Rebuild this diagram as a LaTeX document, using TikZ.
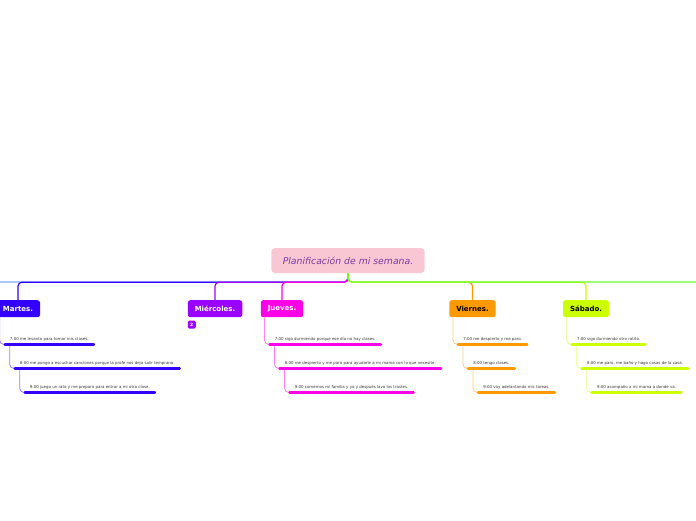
\documentclass[tikz,border=0pt]{standalone}
\usepackage{fontspec}
\setmainfont{DejaVu Sans}
\usepackage{xcolor}
\usetikzlibrary{positioning, calc}

\definecolor{titlefill}{HTML}{F9C6D3}
\definecolor{titletext}{HTML}{7A3F9C}
\definecolor{lunescol}{HTML}{7FA7FF}
\definecolor{martescol}{HTML}{3300FF}
\definecolor{miercol}{HTML}{9900FF}
\definecolor{juevescol}{HTML}{FF00E6}
\definecolor{viernescol}{HTML}{FF9900}
\definecolor{sabadocol}{HTML}{CCFF00}
\definecolor{domingocol}{HTML}{66FF33}
\definecolor{tasktext}{HTML}{333333}

\begin{document}
\begin{tikzpicture}[
    x=1pt, y=-1pt,
    titlebox/.style={fill=titlefill, rounded corners=4pt, minimum height=25pt, inner xsep=11.5pt, font=\fontsize{9.3}{11}\selectfont\itshape, text=titletext},
    daybox/.style={rounded corners=2.5pt, minimum height=17pt, inner xsep=7pt, font=\fontsize{7}{8}\selectfont\bfseries, anchor=north},
    badge/.style={rounded corners=1.5pt, minimum size=8pt, inner sep=0pt, font=\fontsize{4.5}{5}\selectfont\bfseries, text=white, anchor=north west},
    task/.style={anchor=south west, inner xsep=5pt, inner ysep=3pt, font=\fontsize{3.95}{4.5}\selectfont, text=tasktext},
    trunk/.style={line width=1.2pt, rounded corners=4pt},
    underline/.style={line width=2.4pt, line cap=round},
    twig/.style={line width=0.8pt, rounded corners=4pt}
]
\useasboundingbox (0,0) rectangle (696,520);

% central topic
\node[titlebox] (plan) at (348,260.5) {Planificación de mi semana.};

% days
\node[daybox, fill=martescol, text=white] (martes) at (18,300) {Martes.};
\node[daybox, fill=miercol, text=white] (miercoles) at (215,300) {Miércoles.};
\node[daybox, fill=juevescol, text=white] (jueves) at (282,300) {Jueves.};
\node[daybox, fill=viernescol, text=black] (viernes) at (472.5,300) {Viernes.};
\node[daybox, fill=sabadocol, text=black] (sabado) at (586,300) {Sábado.};

\node[badge, fill=miercol] (mibadge) at ($(miercoles.south west)+(0,3)$) {2};

\coordinate (lunes) at (0,282);
\coordinate (domingo) at (696,282);

% trunk lines
\draw[trunk, lunescol] (plan.south) |- (lunes);
\draw[trunk, martescol] (plan.south) -- ++(0,9) -| (martes.north);
\draw[trunk, miercol] (plan.south) -- ++(0,9) -| (miercoles.north);
\draw[trunk, juevescol] (plan.south) -- ++(0,9) -| (jueves.north);
\draw[trunk, viernescol] (plan.south) -- ++(0,9) -| (viernes.north);
\draw[trunk, sabadocol] (plan.south) -- ++(0,9) -| (sabado.north);
\draw[trunk, domingocol] (plan.south) |- (domingo);

% Martes
\node[task] (m1) at ($(martes.south west)+(9,27)$) {7:00 me levanto para tomar mis clases.};
\node[task] (m2) at ($(m1.south west)+(10,24)$) {8:00 me pongo a escuchar canciones porque la profe nos deja salir temprano.};
\node[task] (m3) at ($(m2.south west)+(10,24)$) {9:00 juego un rato y me preparo para entrar a mi otra clase.};
\draw[twig, martescol!50] ([xshift=4pt]martes.south west) |- (m1.south west);
\draw[twig, martescol!50] ([xshift=5pt]m1.south west) |- (m2.south west);
\draw[twig, martescol!50] ([xshift=5pt]m2.south west) |- (m3.south west);
\draw[underline, martescol] (m1.south west) -- (m1.south east);
\draw[underline, martescol] (m2.south west) -- (m2.south east);
\draw[underline, martescol] (m3.south west) -- (m3.south east);

% Jueves
\node[task] (j1) at ($(jueves.south west)+(9,27)$) {7:00 sigo durmiendo porque ese día no hay clases.};
\node[task] (j2) at ($(j1.south west)+(10,24)$) {8:00 me despierto y me paro para ayudarle a mi mama con lo que necesite.};
\node[task] (j3) at ($(j2.south west)+(10,24)$) {9:00 comemos mi familia y yo y después lavo los trastes.};
\draw[twig, juevescol!50] ([xshift=4pt]jueves.south west) |- (j1.south west);
\draw[twig, juevescol!50] ([xshift=5pt]j1.south west) |- (j2.south west);
\draw[twig, juevescol!50] ([xshift=5pt]j2.south west) |- (j3.south west);
\draw[underline, juevescol] (j1.south west) -- (j1.south east);
\draw[underline, juevescol] (j2.south west) -- (j2.south east);
\draw[underline, juevescol] (j3.south west) -- (j3.south east);

% Viernes
\node[task] (v1) at ($(viernes.south west)+(9,27)$) {7:00 me despierto y me paro.};
\node[task] (v2) at ($(v1.south west)+(10,24)$) {8:00 tengo clases.};
\node[task] (v3) at ($(v2.south west)+(10,24)$) {9:00 voy adelantando mis tareas.};
\draw[twig, viernescol!50] ([xshift=4pt]viernes.south west) |- (v1.south west);
\draw[twig, viernescol!50] ([xshift=5pt]v1.south west) |- (v2.south west);
\draw[twig, viernescol!50] ([xshift=5pt]v2.south west) |- (v3.south west);
\draw[underline, viernescol] (v1.south west) -- (v1.south east);
\draw[underline, viernescol] (v2.south west) -- (v2.south east);
\draw[underline, viernescol] (v3.south west) -- (v3.south east);

% Sabado
\node[task] (s1) at ($(sabado.south west)+(9,27)$) {7:00 sigo durmiendo otro ratito.};
\node[task] (s2) at ($(s1.south west)+(10,24)$) {8:00 me paro, me baño y hago cosas de la casa.};
\node[task] (s3) at ($(s2.south west)+(10,24)$) {9:00 acompaño a mi mama a donde va.};
\draw[twig, sabadocol!50] ([xshift=4pt]sabado.south west) |- (s1.south west);
\draw[twig, sabadocol!50] ([xshift=5pt]s1.south west) |- (s2.south west);
\draw[twig, sabadocol!50] ([xshift=5pt]s2.south west) |- (s3.south west);
\draw[underline, sabadocol] (s1.south west) -- (s1.south east);
\draw[underline, sabadocol] (s2.south west) -- (s2.south east);
\draw[underline, sabadocol] (s3.south west) -- (s3.south east);

\end{tikzpicture}
\end{document}
